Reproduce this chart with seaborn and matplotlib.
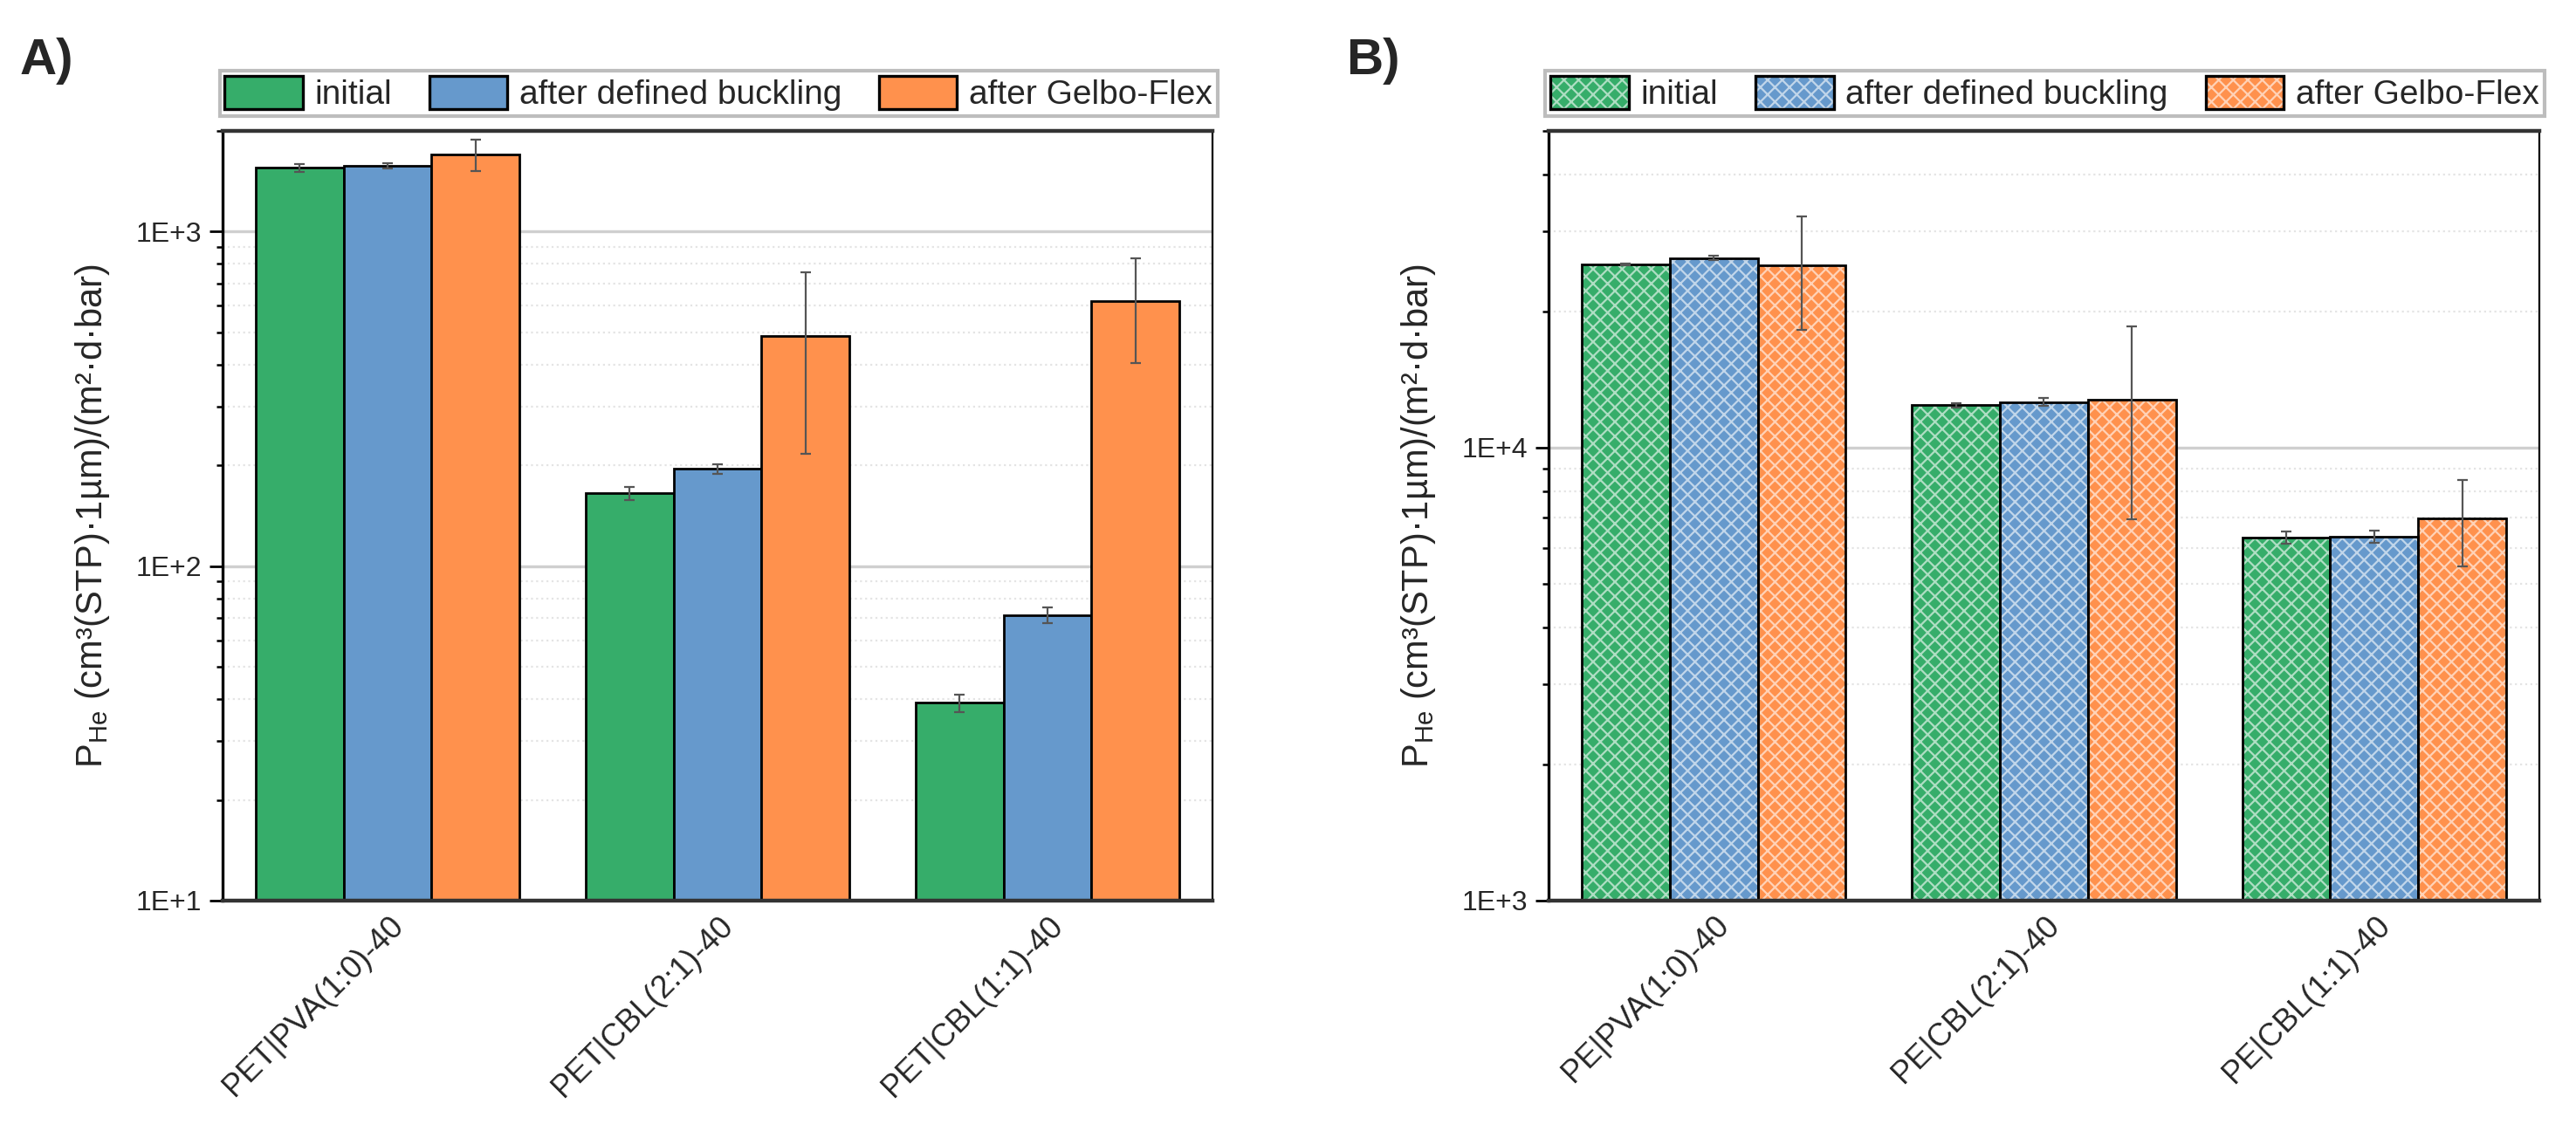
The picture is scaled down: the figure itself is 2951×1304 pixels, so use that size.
import numpy as np
import pandas as pd
import matplotlib
matplotlib.use("Agg")
import matplotlib.pyplot as plt
import seaborn as sns
from matplotlib.patches import Patch, Rectangle
from matplotlib.legend_handler import HandlerTuple
from matplotlib.ticker import LogLocator, FuncFormatter, NullFormatter

# ---------------- data ----------------
conditions = ["initial", "after defined buckling", "after Gelbo-Flex"]
colors = ["#36AD6A", "#6699CC", "#FF914D"]

cats_a = ["PET|PVA(1:0)-40", "PET|CBL(2:1)-40", "PET|CBL(1:1)-40"]
initial_a = [1550, 165, 39]
buckling_a = [1570, 195, 71.5]
gelbo_a = [1700, 487, 618]
initial_a_err = [45, 7, 2.3]
buckling_a_err = [30, 6, 3.8]
gelbo_a_err = [185, 270, 213]

cats_b = ["PE|PVA(1:0)-40", "PE|CBL(2:1)-40", "PE|CBL(1:1)-40"]
initial_b = [25400, 12400, 6330]
buckling_b = [26200, 12600, 6350]
gelbo_b = [25300, 12750, 6970]
initial_b_err = [120, 150, 200]
buckling_b_err = [300, 250, 200]
gelbo_b_err = [7100, 5800, 1500]

ylabel = r"P$_{\mathregular{He}}$ (cm³(STP)·1µm)/(m²·d·bar)"

# ---------------- style ----------------
sns.set_style("white")
plt.rcParams["font.family"] = ["Liberation Sans", "DejaVu Sans"]
plt.rcParams["mathtext.fontset"] = "custom"
plt.rcParams["mathtext.rm"] = "Liberation Sans"
plt.rcParams["mathtext.default"] = "regular"
plt.rcParams["hatch.linewidth"] = 0.8

HATCH = "xxxx"
HATCH_COL = (1, 1, 1, 0.6)

fig = plt.figure(figsize=(14.755, 6.52), dpi=200)
axA = fig.add_axes([0.0864, 0.2086, 0.3843, 0.6764])
axB = fig.add_axes([0.6011, 0.2086, 0.3847, 0.6764])


def long_df(cats, series):
    rows = []
    for cond, vals in zip(conditions, series):
        for cat, v in zip(cats, vals):
            rows.append({"sample": cat, "condition": cond, "value": v})
    return pd.DataFrame(rows)


def draw_panel(ax, cats, series, errs, ylim, hatched):
    df = long_df(cats, series)
    sns.barplot(data=df, x="sample", y="value", hue="condition",
                order=cats, hue_order=conditions, palette=colors,
                saturation=1, errorbar=None, legend=False, width=0.8, ax=ax)
    ax.set_yscale("log")
    bars = list(ax.patches)
    # group bars by category, order by x inside each category
    bycat = {}
    for p in bars:
        xc = p.get_x() + p.get_width() / 2
        bycat.setdefault(int(round(xc)), []).append(p)
    for ci, plist in bycat.items():
        plist.sort(key=lambda p: p.get_x())
        for hi, p in enumerate(plist):
            xc = p.get_x() + p.get_width() / 2
            if hatched:
                p.set_edgecolor(HATCH_COL)
                p.set_hatch(HATCH)
                p.set_linewidth(0)
                ax.add_patch(Rectangle(p.get_xy(), p.get_width(), p.get_height(),
                                       fill=False, edgecolor="black", linewidth=1.0,
                                       zorder=p.get_zorder() + 0.1))
            else:
                p.set_edgecolor("black")
                p.set_linewidth(1.0)
            ax.errorbar(xc, p.get_height(), yerr=errs[hi][ci], fmt="none",
                        ecolor="#555555", elinewidth=0.8, capsize=2.3,
                        capthick=0.8, zorder=6)

    ax.set_xlim(-0.5, 2.5)
    ax.set_ylim(*ylim)
    ax.yaxis.set_major_locator(LogLocator(base=10, numticks=12))
    ax.yaxis.set_minor_locator(LogLocator(base=10, subs=np.arange(2, 10), numticks=12))
    ax.yaxis.set_major_formatter(FuncFormatter(lambda v, _: f"1E+{int(round(np.log10(v)))}"))
    ax.yaxis.set_minor_formatter(NullFormatter())
    ax.set_axisbelow(True)
    ax.grid(which="major", axis="y", color="#cfcfcf", lw=1.2, ls="-")
    ax.grid(which="minor", axis="y", color="#e4e4e4", lw=0.8, ls=":")
    ax.grid(which="both", axis="x", visible=False)

    ax.tick_params(axis="y", which="major", direction="out", length=5.5, width=1.0,
                   labelsize=11.5, left=True, pad=3, color="black")
    ax.tick_params(axis="y", which="minor", direction="out", length=2.7, width=0.9,
                   left=True, color="black")
    ax.tick_params(axis="x", which="both", length=0, labelsize=13, pad=4)
    ax.set_xticks(range(len(cats)))
    ax.set_xticklabels(cats, rotation=45, ha="right", va="top", rotation_mode="anchor")
    ax.set_xlabel("")
    ax.set_ylabel(ylabel, fontsize=15)
    ax.yaxis.set_label_coords(-0.112, 0.5)

    for side in ["top", "bottom"]:
        ax.spines[side].set_color("#333333")
        ax.spines[side].set_linewidth(1.6)
    ax.spines["left"].set_color("black")
    ax.spines["left"].set_linewidth(1.2)
    ax.spines["right"].set_color("black")
    ax.spines["right"].set_linewidth(0.8)

    if hatched:
        handles = [(Patch(facecolor=c, edgecolor=HATCH_COL, hatch=HATCH, linewidth=0),
                    Patch(facecolor="none", edgecolor="black", linewidth=1.2))
                   for c in colors]
    else:
        handles = [Patch(facecolor=c, edgecolor="black", linewidth=1.2) for c in colors]
    leg = ax.legend(handles, conditions, loc="lower left",
                    bbox_to_anchor=(-0.003, 1.019, 1.008, 0.06), mode="expand",
                    ncol=3, fontsize=14, borderpad=0.15, handleheight=1.15,
                    handlelength=2.3, handletextpad=0.35, borderaxespad=0,
                    fancybox=False, framealpha=1,
                    handler_map={tuple: HandlerTuple(ndivide=1, pad=0)})
    leg.get_frame().set_edgecolor("#bdbdbd")
    leg.get_frame().set_linewidth(1.5)


draw_panel(axA, cats_a, [initial_a, buckling_a, gelbo_a],
           [initial_a_err, buckling_a_err, gelbo_a_err], (10, 2000), False)
draw_panel(axB, cats_b, [initial_b, buckling_b, gelbo_b],
           [initial_b_err, buckling_b_err, gelbo_b_err], (1000, 50000), True)

fig.text(0.0078, 0.9348, "A)", fontsize=21, fontweight="bold", va="baseline", ha="left")
fig.text(0.5225, 0.9348, "B)", fontsize=21, fontweight="bold", va="baseline", ha="left")

fig.savefig("out.png", dpi=200)
